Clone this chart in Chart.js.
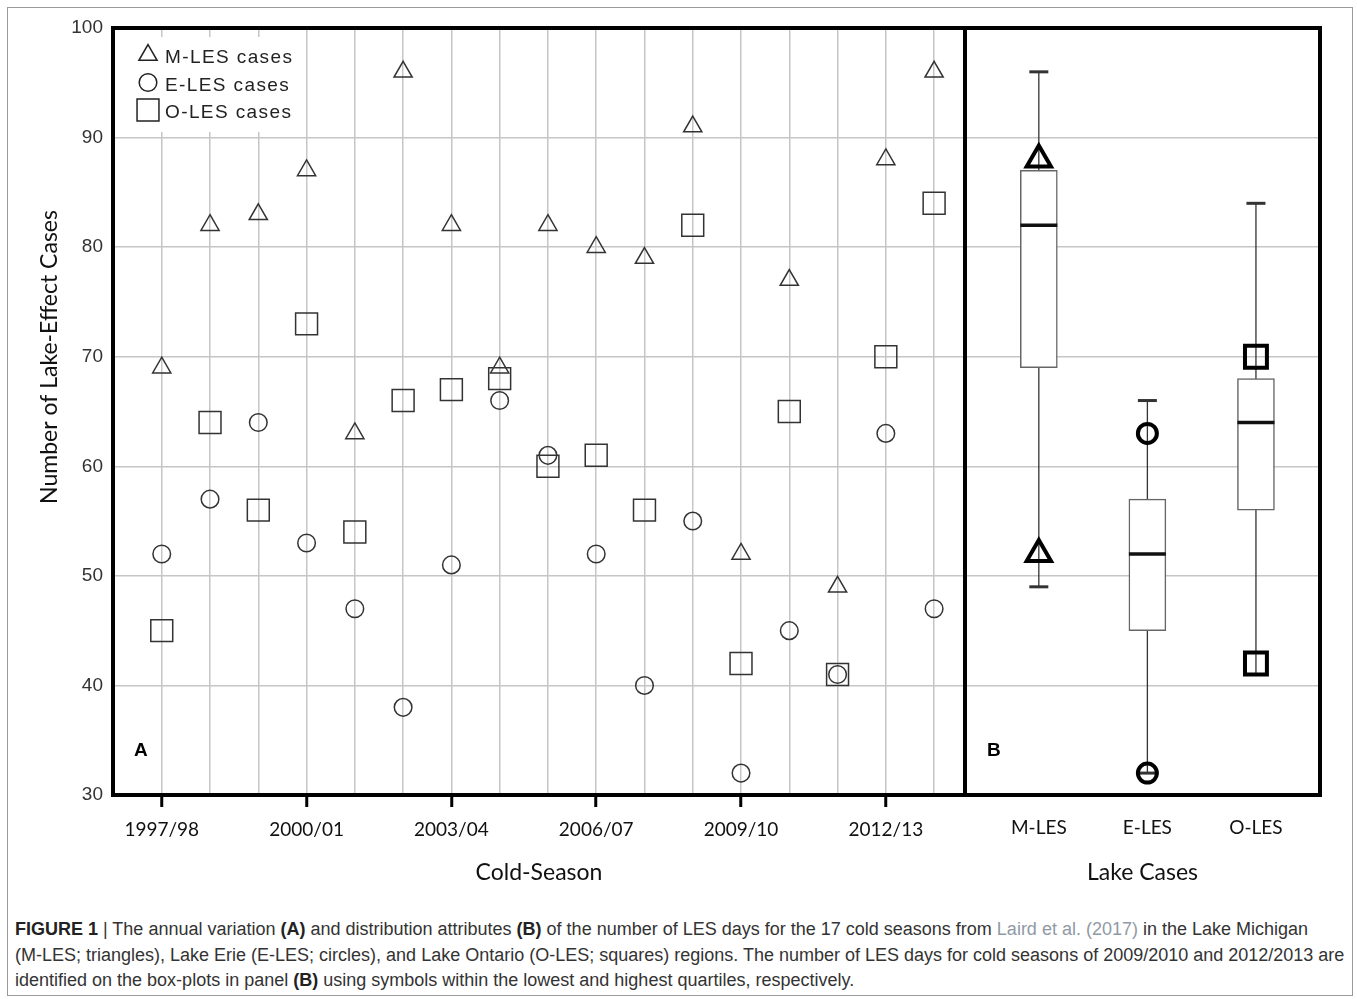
<!DOCTYPE html>
<html lang="en">
<head>
    <meta charset="UTF-8">
    <title>LES cases per cold season</title>
    <script src="https://cdn.jsdelivr.net/npm/chart.js"></script>
    <style>
        body {
            margin: 0;
            padding: 0;
            background: #fff;
        }
        .wrap {
            position: relative;
            width: 1357px;
            height: 999px;
        }
        .frame {
            position: absolute;
            left: 7px;
            top: 7px;
            width: 1344px;
            height: 987px;
            border: 1.5px solid #9a9a9a;
        }
        #chartA, #chartB {
            position: absolute;
            top: 0;
        }
        #chartA { left: 0; }
        #chartB { left: 960px; }
        .caption {
            position: absolute;
            left: 15px;
            top: 917px;
            margin: 0;
            font-family: "Liberation Sans", Arial, sans-serif;
            font-size: 18px;
            line-height: 25.5px;
            color: #333;
            white-space: nowrap;
        }
        .caption b { color: #222; }
        .caption .ref { color: #8f9aa6; }
    </style>
</head>
<body>
<div class="wrap">
    <div class="frame"></div>
    <canvas id="chartA" width="970" height="900"></canvas>
    <canvas id="chartB" width="380" height="900"></canvas>
    <p class="caption"><b>FIGURE 1</b> | The annual variation <b>(A)</b> and distribution attributes <b>(B)</b> of the number of LES days for the 17 cold seasons from <span class="ref">Laird et al. (2017)</span> in the Lake Michigan<br>(M-LES; triangles), Lake Erie (E-LES; circles), and Lake Ontario (O-LES; squares) regions. The number of LES days for cold seasons of 2009/2010 and 2012/2013 are<br>identified on the box-plots in panel <b>(B)</b> using symbols within the lowest and highest quartiles, respectively.</p>
</div>

<script>
    // seasons and yearly counts (panel A)
    const seasons = ['1997/98', '1998/99', '1999/00', '2000/01', '2001/02', '2002/03', '2003/04', '2004/05', '2005/06',
        '2006/07', '2007/08', '2008/09', '2009/10', '2010/11', '2011/12', '2012/13', '2013/14'];
    const mles = [69, 82, 83, 87, 63, 96, 82, 69, 82, 80, 79, 91, 52, 77, 49, 88, 96];
    const eles = [52, 57, 64, 53, 47, 38, 51, 66, 61, 52, 40, 55, 32, 45, 41, 63, 47];
    const oles = [45, 64, 56, 73, 54, 66, 67, 68, 60, 61, 56, 82, 42, 65, 41, 70, 84];
    const labeledEvery = 3;

    // box plot values (panel B)
    const lakes = ['M-LES', 'E-LES', 'O-LES'];
    const boxMin = [49, 32, 41];
    const boxQ1 = [69, 45, 56];
    const boxMed = [82, 52, 64];
    const boxQ3 = [87, 57, 68];
    const boxMax = [96, 66, 84];
    const markedSeasons = ['2009/10', '2012/13'];

    const yMin = 30, yMax = 100, yStep = 10;

    const gridGray = '#c6c6c6';
    const axisFont = {family: 'Lato', size: 19};
    const titleFont = {family: 'Lato', size: 23};

    const pts = arr => arr.map((v, i) => ({x: i, y: v}));

    // no extra room for the first/last tick labels
    const noLabelPad = s => {
        s.paddingLeft = 0;
        s.paddingRight = 0;
    };

    // frame, panel letter, legend and the left title
    const panelPlugin = {
        id: 'panel',
        beforeDatasetsDraw(chart, args, opts) {
            if (!opts.legend) return;
            const ctx = chart.ctx;
            const a = chart.chartArea;
            ctx.save();
            ctx.fillStyle = '#fff';
            ctx.fillRect(a.left + 4, a.top + 9, 182, 95);
            chart.data.datasets.forEach((ds, i) => {
                const y = a.top + 27 + i * 27.5;
                ctx.strokeStyle = '#222';
                ctx.fillStyle = 'rgba(0,0,0,0)';
                ctx.lineWidth = 1.5;
                Chart.helpers.drawPoint(ctx, {
                    pointStyle: ds.pointStyle, radius: ds.pointRadius, borderWidth: 1.5, rotation: 0
                }, a.left + 35, y);
                ctx.fillStyle = '#222';
                ctx.font = '19px "Liberation Sans", Arial, sans-serif';
                ctx.letterSpacing = '1.4px';
                ctx.textBaseline = 'middle';
                ctx.fillText(ds.label, a.left + 52, y + 3);
            });
            ctx.restore();
        },
        afterDraw(chart, args, opts) {
            const ctx = chart.ctx;
            const a = chart.chartArea;
            ctx.save();
            ctx.fillStyle = '#000';
            ctx.font = 'bold 19px "Liberation Sans", Arial, sans-serif';
            ctx.textBaseline = 'middle';
            ctx.fillText(opts.label, a.left + opts.labelX, 751);
            ctx.lineWidth = 4;
            ctx.strokeStyle = '#000';
            ctx.strokeRect(a.left, a.top, a.right - a.left, a.bottom - a.top);
            if (opts.yTitle) {
                ctx.translate(50, 357);
                ctx.rotate(-Math.PI / 2);
                ctx.textAlign = 'center';
                ctx.fillStyle = '#111';
                ctx.font = '23px Lato, sans-serif';
                ctx.fillText(opts.yTitle, 0, 0);
            }
            ctx.restore();
        }
    };

    const markerStyle = {
        pointBackgroundColor: 'rgba(0,0,0,0)',
        pointBorderColor: '#333',
        pointBorderWidth: 1.5,
        pointHoverRadius: 0,
        showLine: false
    };

    // Panel A: yearly scatter
    new Chart(document.getElementById('chartA'), {
        type: 'scatter',
        data: {
            datasets: [
                {label: 'M-LES cases', data: pts(mles), pointStyle: 'triangle', pointRadius: 10.5, ...markerStyle},
                {label: 'E-LES cases', data: pts(eles), pointStyle: 'circle', pointRadius: 8.8, ...markerStyle},
                {label: 'O-LES cases', data: pts(oles), pointStyle: 'rect', pointRadius: 15.5, ...markerStyle}
            ]
        },
        options: {
            responsive: false,
            animation: false,
            layout: {autoPadding: false, padding: {top: 28, right: 5, left: 0, bottom: 0}},
            plugins: {
                legend: {display: false},
                tooltip: {enabled: false},
                panel: {label: 'A', labelX: 21, legend: true, yTitle: 'Number of Lake-Effect Cases'}
            },
            scales: {
                x: {
                    type: 'linear',
                    min: -1.01,
                    max: 16.64,
                    afterBuildTicks: s => { s.ticks = seasons.map((_, i) => ({value: i})); },
                    afterFit: s => { s.height = 105; noLabelPad(s); },
                    ticks: {
                        autoSkip: false,
                        maxRotation: 0,
                        padding: 11,
                        color: '#111',
                        font: axisFont,
                        callback: v => (v % labeledEvery === 0 ? seasons[v] : '')
                    },
                    grid: {
                        color: gridGray,
                        lineWidth: 1.5,
                        tickLength: 12,
                        tickWidth: 3,
                        tickColor: c => (c.tick && c.tick.value % labeledEvery === 0 ? '#000' : 'rgba(0,0,0,0)')
                    },
                    border: {display: false},
                    title: {display: true, text: 'Cold-Season', color: '#111', font: titleFont, padding: {top: 4, bottom: 14}}
                },
                y: {
                    min: yMin,
                    max: yMax,
                    afterFit: s => { s.width = 113; },
                    ticks: {
                        stepSize: yStep,
                        padding: 10,
                        color: '#333',
                        font: {family: 'Liberation Sans', size: 19}
                    },
                    grid: {color: gridGray, lineWidth: 1.5, drawTicks: false},
                    border: {display: false}
                }
            }
        },
        plugins: [panelPlugin]
    });

    // Panel B: box plots
    const markedIdx = markedSeasons.map(s => seasons.indexOf(s));
    const marked = (arr, lake) => markedIdx.map(i => ({x: lake, y: arr[i]}));

    new Chart(document.getElementById('chartB'), {
        type: 'scatter',
        data: {
            datasets: [
                {
                    type: 'scatter', label: 'M marked', data: marked(mles, 0), order: 1,
                    pointStyle: 'triangle', pointRadius: 14, pointBorderWidth: 4,
                    pointBorderColor: '#000', pointBackgroundColor: 'rgba(0,0,0,0)'
                },
                {
                    type: 'scatter', label: 'E marked', data: marked(eles, 1), order: 1,
                    pointStyle: 'circle', pointRadius: 9.5, pointBorderWidth: 4,
                    pointBorderColor: '#000', pointBackgroundColor: 'rgba(0,0,0,0)'
                },
                {
                    type: 'scatter', label: 'O marked', data: marked(oles, 2), order: 1,
                    pointStyle: 'rect', pointRadius: 15.5, pointBorderWidth: 4,
                    pointBorderColor: '#000', pointBackgroundColor: 'rgba(0,0,0,0)'
                },
                {
                    type: 'scatter', label: 'caps', order: 2,
                    data: lakes.flatMap((_, i) => [{x: i, y: boxMin[i]}, {x: i, y: boxMax[i]}]),
                    pointStyle: 'line', pointRadius: 9.5, pointBorderWidth: 3, pointBorderColor: '#333', rotation: 0
                },
                {
                    type: 'scatter', label: 'median', order: 3,
                    data: lakes.map((_, i) => ({x: i, y: boxMed[i]})),
                    pointStyle: 'line', pointRadius: 18.5, pointBorderWidth: 3.5, pointBorderColor: '#111', rotation: 0
                },
                {
                    type: 'bar', label: 'box', order: 4,
                    data: lakes.map((_, i) => ({x: i, y: [boxQ1[i], boxQ3[i]]})),
                    barThickness: 37,
                    backgroundColor: '#fff',
                    borderColor: '#666',
                    borderWidth: 1.5,
                    borderSkipped: false
                },
                {
                    type: 'line', label: 'whisker', order: 5,
                    data: lakes.flatMap((_, i) => [{x: i, y: boxMin[i]}, {x: i, y: boxMax[i]}, {x: i, y: null}]),
                    borderColor: '#333',
                    borderWidth: 1.3,
                    pointRadius: 0,
                    spanGaps: false
                }
            ]
        },
        options: {
            responsive: false,
            animation: false,
            layout: {autoPadding: false, padding: {top: 28, right: 20, left: 5, bottom: 0}},
            plugins: {
                legend: {display: false},
                tooltip: {enabled: false},
                panel: {label: 'B', labelX: 22, legend: false}
            },
            scales: {
                x: {
                    type: 'linear',
                    offset: false,
                    min: -0.68,
                    max: 2.59,
                    afterBuildTicks: s => { s.ticks = lakes.map((_, i) => ({value: i})); },
                    afterFit: s => { s.height = 105; noLabelPad(s); },
                    ticks: {
                        autoSkip: false,
                        maxRotation: 0,
                        padding: 13,
                        color: '#111',
                        font: axisFont,
                        callback: v => lakes[v]
                    },
                    grid: {display: false},
                    border: {display: false},
                    title: {display: true, text: 'Lake Cases', color: '#111', font: titleFont, padding: {top: 4, bottom: 14}}
                },
                y: {
                    type: 'linear',
                    min: yMin,
                    max: yMax,
                    afterFit: s => { s.width = 0; },
                    ticks: {stepSize: yStep, display: false},
                    grid: {color: gridGray, lineWidth: 1.5, drawTicks: false},
                    border: {display: false}
                }
            }
        },
        plugins: [panelPlugin]
    });
</script>
</body>
</html>
